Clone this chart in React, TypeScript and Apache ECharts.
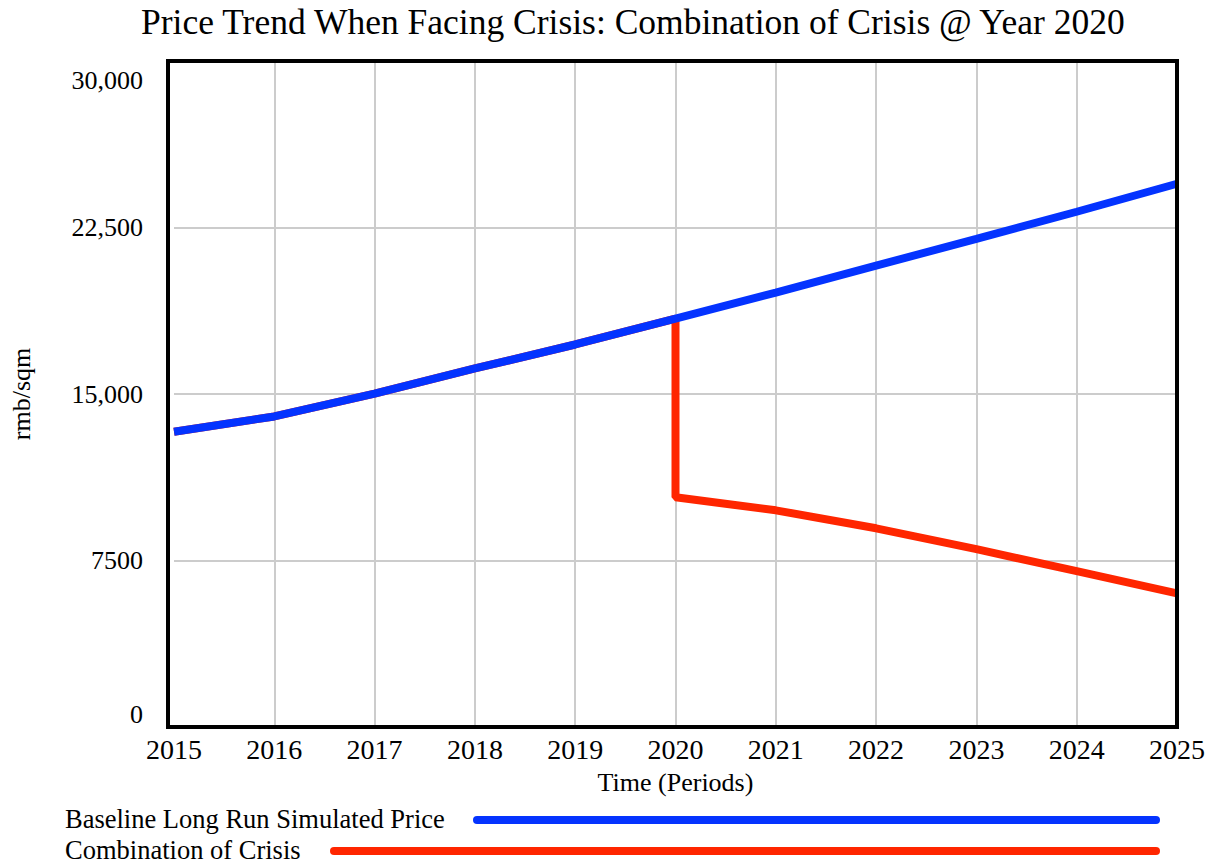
import React, { useEffect, useRef } from "react";
import * as echarts from "echarts";

const years = [2015, 2016, 2017, 2018, 2019, 2020, 2021, 2022, 2023, 2024, 2025];
const baselinePrice = [13300, 13990, 15020, 16150, 17230, 18400, 19570, 20780, 21990, 23210, 24470];
const crisisYears = [2015, 2016, 2017, 2018, 2019, 2020, 2020, 2021, 2022, 2023, 2024, 2025];
const crisisPrice = [13300, 13990, 15020, 16150, 17230, 18400, 10350, 9760, 8950, 8010, 7020, 6020];
const yTickLabels: Record<number, string> = { 0: "0", 7500: "7500", 15000: "15,000", 22500: "22,500", 30000: "30,000" };
const legendNames = ["Baseline Long Run Simulated Price", "Combination of Crisis"];

const FONT = "'Liberation Serif', 'Times New Roman', serif";
const BLUE = "#0433ff";
const RED = "#ff2600";

export default function App() {
  const ref = useRef<HTMLDivElement>(null);
  useEffect(() => {
    document.body.style.margin = "0";
    const chart = echarts.init(ref.current!, null, { renderer: "svg" });
    chart.setOption({
      animation: false,
      backgroundColor: "#ffffff",
      title: {
        text: "Price Trend When Facing Crisis: Combination of Crisis @ Year 2020",
        left: 136,
        top: -1,
        textStyle: { fontFamily: FONT, fontSize: 35.5, fontWeight: "normal", color: "#000" },
      },
      grid: {
        left: 168,
        right: 32,
        top: 61,
        bottom: 140,
        show: false,
      },
      xAxis: {
        type: "value",
        min: 2015,
        max: 2025,
        interval: 1,
        name: "Time (Periods)",
        nameLocation: "middle",
        nameGap: 42,
        nameTextStyle: { fontFamily: FONT, fontSize: 26, color: "#000" },
        axisLine: { show: false },
        axisTick: { show: false },
        axisLabel: { fontFamily: FONT, fontSize: 28, color: "#000", margin: 8, formatter: (v: number) => String(v) },
        splitLine: { show: true, showMinLine: false, showMaxLine: false, lineStyle: { color: "#cccccc", width: 2 } },
      },
      yAxis: {
        type: "value",
        min: 0,
        max: 30000,
        interval: 7500,
        name: "rmb/sqm",
        nameLocation: "middle",
        nameGap: 140,
        nameRotate: 90,
        nameTextStyle: { fontFamily: FONT, fontSize: 26, color: "#000" },
        axisLine: { show: false },
        axisTick: { show: false },
        axisLabel: {
          fontFamily: FONT,
          fontSize: 26,
          color: "#000",
          margin: 31,
          verticalAlignMaxLabel: "top",
          verticalAlignMinLabel: "bottom",
          formatter: (v: number) => (v === 30000 ? "{top|" + yTickLabels[v] + "}" : yTickLabels[v] ?? String(v)),
          rich: { top: { fontFamily: FONT, fontSize: 26, color: "#000", padding: [6, 0, 0, 0] } },
        },
        splitLine: { show: true, showMinLine: false, showMaxLine: false, lineStyle: { color: "#cccccc", width: 2 } },
      },
      series: [
        {
          name: legendNames[1],
          type: "line",
          data: crisisYears.map((y, i) => [y, crisisPrice[i]]),
          showSymbol: false,
          lineStyle: { color: RED, width: 8 },
          z: 2,
        },
        {
          name: legendNames[0],
          type: "line",
          data: years.map((y, i) => [y, baselinePrice[i]]),
          showSymbol: false,
          lineStyle: { color: BLUE, width: 8 },
          z: 3,
        },
      ],
      graphic: [
        {
          type: "rect",
          shape: { x: 168, y: 61, width: 1009, height: 666 },
          style: { fill: "none", stroke: "#000", lineWidth: 4 },
          z: 100,
        },
        {
          type: "text",
          left: 65,
          top: 805,
          style: { text: legendNames[0], fontFamily: FONT, fontSize: 26.5, fill: "#000" },
        },
        {
          type: "line",
          shape: { x1: 477, y1: 820, x2: 1156, y2: 820 },
          style: { stroke: BLUE, lineWidth: 8, lineCap: "round" },
        },
        {
          type: "text",
          left: 65,
          top: 836,
          style: { text: legendNames[1], fontFamily: FONT, fontSize: 26.5, fill: "#000" },
        },
        {
          type: "line",
          shape: { x1: 334, y1: 851, x2: 1156, y2: 851 },
          style: { stroke: RED, lineWidth: 8, lineCap: "round" },
        },
      ],
    });
    return () => chart.dispose();
  }, []);
  return <div ref={ref} style={{ width: 1209, height: 867 }} />;
}
